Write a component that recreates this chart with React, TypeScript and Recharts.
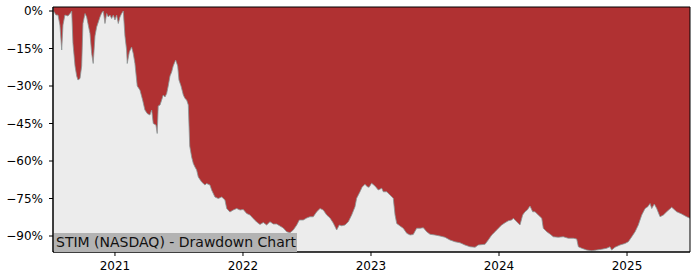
import React from 'react';
import {
  AreaChart,
  Area,
  XAxis,
  YAxis,
  CartesianGrid,
  ReferenceArea,
} from 'recharts';

// decimal years
const dates = [
  2020.52, 2020.539, 2020.555, 2020.57, 2020.584, 2020.594, 2020.609, 2020.633, 2020.654, 2020.662,
  2020.672, 2020.688, 2020.701, 2020.711, 2020.727, 2020.74, 2020.75, 2020.766, 2020.779, 2020.789,
  2020.805, 2020.818, 2020.83, 2020.844, 2020.857, 2020.87, 2020.883, 2020.896, 2020.909, 2020.922,
  2020.935, 2020.948, 2020.961, 2020.974, 2020.987, 2021.0, 2021.013, 2021.026, 2021.039, 2021.052,
  2021.065, 2021.078, 2021.091, 2021.096, 2021.112, 2021.13, 2021.143, 2021.156, 2021.174, 2021.195,
  2021.216, 2021.234, 2021.252, 2021.273, 2021.287, 2021.299, 2021.32, 2021.33, 2021.338, 2021.352,
  2021.365, 2021.377, 2021.391, 2021.404, 2021.416, 2021.43, 2021.443, 2021.455, 2021.474, 2021.49,
  2021.5, 2021.516, 2021.534, 2021.547, 2021.56, 2021.573, 2021.584, 2021.599, 2021.612, 2021.625,
  2021.638, 2021.651, 2021.677, 2021.69, 2021.703, 2021.716, 2021.742, 2021.755, 2021.781, 2021.807,
  2021.834, 2021.859, 2021.873, 2021.898, 2021.924, 2021.951, 2021.977, 2022.002, 2022.029, 2022.055,
  2022.08, 2022.107, 2022.133, 2022.159, 2022.185, 2022.211, 2022.237, 2022.263, 2022.289, 2022.315,
  2022.341, 2022.367, 2022.393, 2022.42, 2022.44, 2022.471, 2022.498, 2022.523, 2022.549, 2022.576,
  2022.602, 2022.627, 2022.654, 2022.68, 2022.705, 2022.732, 2022.752, 2022.771, 2022.797, 2022.823,
  2022.849, 2022.875, 2022.888, 2022.914, 2022.93, 2022.953, 2022.971, 2022.985, 2023.005, 2023.031,
  2023.057, 2023.084, 2023.096, 2023.123, 2023.148, 2023.174, 2023.188, 2023.201, 2023.227, 2023.252,
  2023.279, 2023.305, 2023.33, 2023.357, 2023.383, 2023.409, 2023.435, 2023.461, 2023.5, 2023.539,
  2023.578, 2023.617, 2023.656, 2023.695, 2023.734, 2023.773, 2023.813, 2023.838, 2023.891, 2023.916,
  2023.943, 2023.969, 2023.995, 2024.021, 2024.047, 2024.073, 2024.099, 2024.112, 2024.138, 2024.164,
  2024.185, 2024.203, 2024.221, 2024.242, 2024.263, 2024.281, 2024.307, 2024.334, 2024.346, 2024.373,
  2024.398, 2024.424, 2024.463, 2024.502, 2024.541, 2024.58, 2024.607, 2024.62, 2024.646, 2024.685,
  2024.724, 2024.763, 2024.802, 2024.841, 2024.867, 2024.88, 2024.906, 2024.945, 2024.984, 2025.01,
  2025.037, 2025.063, 2025.088, 2025.115, 2025.141, 2025.162, 2025.18, 2025.193, 2025.213, 2025.232,
  2025.258, 2025.284, 2025.31, 2025.349, 2025.388, 2025.427, 2025.466, 2025.492,
];

// drawdown in percent
const drawdown = [
  0, -1.6, -1.6, -5.6, -15.6, -5.6, -1.6, -2.0, -0.7, 0,
  -13, -22, -26, -27.6, -27, -22, -5, -1, -2.4, -5,
  -9, -17, -21, -10, -6.4, -4.4, -2.4, -0.8, 0, -5,
  -1, -2.4, -1.6, -3, -1.6, -3.6, -1.6, -5, -2.4, -1,
  0, -10, -15.6, -21, -16.4, -14.4, -17, -21, -30, -31.6,
  -35.6, -39.6, -41, -41.6, -39.6, -45, -45.6, -49, -38, -37.6,
  -35.6, -33.6, -34.4, -33, -30, -26, -24.4, -22, -19.6, -22,
  -27.6, -30, -33.6, -35, -35.6, -37.6, -54, -58.4, -61, -62.4,
  -63.6, -66.4, -68.4, -69, -69.6, -69, -69.6, -71.6, -74.4, -75,
  -74.4, -75.6, -79, -80.4, -79.6, -79, -79.6, -79.4, -81, -81.6,
  -83, -84.4, -85.4, -84.6, -85.6, -84.3, -85.2, -85.2, -86, -86.8,
  -88.3, -88.7, -87.6, -85.6, -83.6, -83.6, -82.8, -82.3, -82.3, -80.3,
  -79, -79.6, -81.6, -82.8, -84.8, -87.6, -85.6, -85.9, -85.6, -84.3,
  -81.6, -78.3, -74.9, -72.3, -70.5, -69.3, -70.3, -70.5, -68.9, -70,
  -71.6, -70.9, -72.3, -72.3, -73.6, -74.9, -81.6, -85, -86, -86.9,
  -88.9, -89.6, -89.4, -86.9, -86.9, -86.7, -88.3, -89.3, -89.6, -90,
  -90.5, -91.6, -92.3, -92.7, -93.6, -94.3, -94.5, -93.6, -93.3, -91.6,
  -89.6, -88.3, -86.9, -85.6, -84.7, -83.9, -83.6, -82.9, -84.3, -85.6,
  -81.6, -80.3, -79.6, -78, -80.3, -80.3, -81.6, -82.9, -86.9, -88.3,
  -89.2, -90.3, -90.5, -90.3, -90.9, -90.9, -91.2, -94.3, -94.9, -95.6,
  -95.9, -95.6, -95.3, -94.9, -94.3, -95.6, -94.5, -93.6, -93, -92.3,
  -90.3, -88.3, -85.6, -81.6, -79, -78.3, -77, -79, -77.2, -79,
  -82.3, -81.6, -80.3, -78.5, -80.3, -81.2, -82.3, -82.9,
];

const yearTicks = [2021, 2022, 2023, 2024, 2025];
const pctTicks = [0, -15, -30, -45, -60, -75, -90];
const title = 'STIM (NASDAQ) - Drawdown Chart';

const X_MIN = 2020.516;
const X_MAX = 2025.492;
const Y_MIN = -96.4;
const Y_MAX = 1.6;

const data = dates.map((t, i) => ({ t, dd: drawdown[i] }));

const font = { fontFamily: 'DejaVu Sans', fontSize: 12, fill: '#000' };

export default function App() {
  return (
    <div style={{ position: 'fixed', left: 0, top: 0, width: 700, height: 280, background: '#fff' }}>
      <AreaChart
        width={700}
        height={280}
        data={data}
        margin={{ top: 7, right: 10, left: 0, bottom: 0 }}
      >
        <CartesianGrid fill="#ececec" horizontal={false} vertical={false} />
        <XAxis
          dataKey="t"
          type="number"
          domain={[X_MIN, X_MAX]}
          ticks={yearTicks}
          tickFormatter={(v) => String(v)}
          allowDataOverflow
          height={28}
          tickSize={4}
          tickMargin={5}
          stroke="#000"
          tick={font}
        />
        <YAxis
          type="number"
          domain={[Y_MIN, Y_MAX]}
          ticks={pctTicks}
          tickFormatter={(v) => `${String(v).replace('-', '\u2212')}%`}
          allowDataOverflow
          width={53}
          tickSize={4}
          tickMargin={6}
          stroke="#000"
          tick={font}
        />
        <Area
          type="linear"
          dataKey="dd"
          baseValue={Y_MAX}
          fill="#b03132"
          fillOpacity={1}
          stroke="#8a9696"
          strokeWidth={0.8}
          dot={false}
          activeDot={false}
          isAnimationActive={false}
        />
        <ReferenceArea
          x1={X_MIN}
          x2={X_MAX}
          y1={Y_MIN}
          y2={Y_MAX}
          fill="none"
          stroke="#000"
          strokeWidth={1}
          ifOverflow="visible"
        />
      </AreaChart>
      <div
        style={{
          position: 'absolute',
          left: 54,
          top: 233,
          width: 243,
          height: 19,
          background: '#b3b3b3',
          fontFamily: 'DejaVu Sans',
          fontSize: 14,
          lineHeight: '19px',
          color: '#111',
          paddingLeft: 2,
          boxSizing: 'border-box',
          whiteSpace: 'nowrap',
        }}
      >
        {title}
      </div>
    </div>
  );
}
